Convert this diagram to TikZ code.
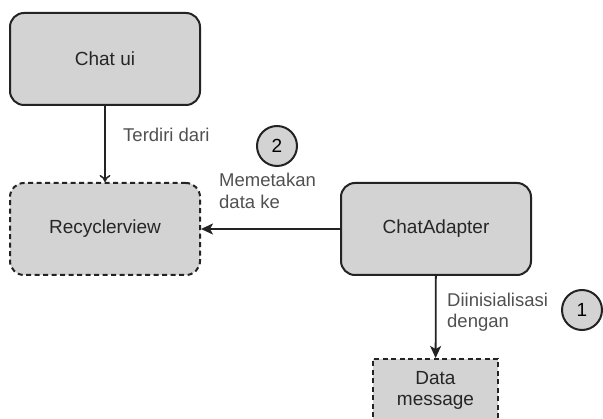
\documentclass[tikz,border=0pt]{standalone}
\usepackage{fontspec}
\setmainfont{Liberation Sans}
\usetikzlibrary{arrows.meta}
\definecolor{boxgray}{RGB}{211,211,211}
\definecolor{linegray}{RGB}{35,35,35}
\definecolor{labelgray}{RGB}{80,80,80}
\begin{document}
\begin{tikzpicture}[x=1pt, y=-1pt,
        box/.style={draw=linegray, line width=2pt, fill=boxgray, rounded corners=14pt,
            minimum width=190pt, minimum height=92pt, text=black!85,
            font=\fontsize{19}{21}\selectfont},
        dashbox/.style={box, dash pattern=on 5pt off 3.5pt},
        stepnum/.style={draw=linegray, line width=2pt, fill=boxgray, circle,
            minimum size=40pt, inner sep=0pt, font=\fontsize{19}{21}\selectfont},
        lbl/.style={anchor=west, align=left, text=labelgray, inner sep=0pt,
            font=\fontsize{18.5}{21.5}\selectfont}]
        \clip (0,0) rectangle (603,419);
        % boxes
        \node[box] (chatui) at (105,59) {Chat ui};
        \node[dashbox] (recycler) at (105,229) {Recyclerview};
        \node[box] (adapter) at (436,229) {ChatAdapter};
        \node[dashbox, rounded corners=0pt, minimum width=125pt, minimum height=62pt,
            align=center] (datamsg) at (435.5,390) {Data\\message};

        % numbers
        \node[stepnum] (two) at (277,146) {2};
        \node[stepnum] (one) at (582,310) {1};

        % labels
        \node[lbl] (terdiri) at (123,135) {Terdiri dari};
        \node[lbl] (memetakan) at (219,191) {Memetakan\\data ke};
        \node[lbl] (diinit) at (447,312) {Diinisialisasi\\dengan};

        \draw[-{To[length=7pt,width=11pt]}, line width=1.5pt, draw=linegray] (chatui) -- (recycler);
        \draw[-{Stealth[length=12pt,width=11pt,inset=3pt]}, line width=1.8pt, draw=linegray] (adapter) -- (recycler);
        \draw[-{Stealth[length=12pt,width=11pt,inset=3pt]}, line width=1.8pt, draw=linegray] (adapter) -- (datamsg);
    \end{tikzpicture}
\end{document}
